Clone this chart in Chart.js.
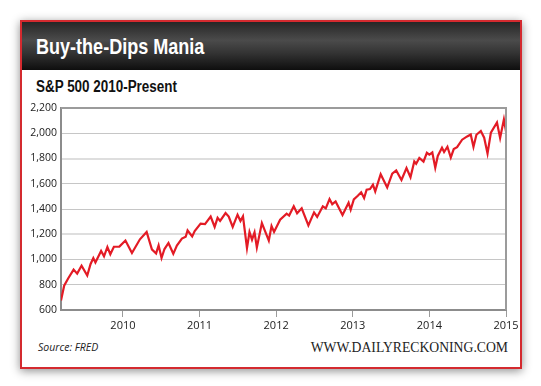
<!DOCTYPE html>
<html>
<head>
<meta charset="utf-8">
<title>Buy-the-Dips Mania</title>
<script src="https://cdn.jsdelivr.net/npm/chart.js@4/dist/chart.umd.min.js"></script>
<style>
  body { margin: 0; background: #fff; width: 541px; height: 386px; position: relative; overflow: hidden; }
  .frame {
    position: absolute; left: 20px; top: 20px; width: 498px; height: 345px;
    border: 2px solid #d42a2f; background: #fff;
    box-shadow: 0 2px 9px rgba(0,0,0,0.45);
  }
  .header {
    height: 48px;
    background: linear-gradient(#262626 0%, #4b4b4b 38%, #333 65%, #0e0e0e 100%);
  }
  .title, .subtitle {
    position: absolute; left: 14px; white-space: nowrap;
    font-family: "Liberation Sans", Arial, sans-serif; font-weight: bold;
    transform-origin: 0 0; transform: scaleX(0.82);
  }
  .title { top: 12px; color: #fff; font-size: 22px; }
  .subtitle { top: 56px; color: #111; font-size: 16px; transform: scaleX(0.84); }
  .source {
    position: absolute; left: 16px; top: 318px; color: #222;
    font: italic 10.5px "Open Sans", sans-serif;
  }
  .site {
    position: absolute; right: 12px; top: 318px; color: #222;
    font: 13.7px "Liberation Serif", serif;
  }
  .chart-box { position: absolute; left: 0; top: 0; width: 541px; height: 386px; }
</style>
</head>
<body>
<div class="frame">
  <div class="header"></div>
  <div class="title">Buy-the-Dips Mania</div>
  <div class="subtitle">S&amp;P 500 2010-Present</div>
  <div class="source">Source: FRED</div>
  <div class="site">WWW.DAILYRECKONING.COM</div>
</div>
<div class="chart-box"><canvas id="chart"></canvas></div>
<script>
const dates = [
  "2009-03-12", "2009-03-27", "2009-04-15", "2009-05-11", "2009-05-28", "2009-06-18",
  "2009-07-15", "2009-07-31", "2009-08-13", "2009-08-23", "2009-09-19", "2009-10-03",
  "2009-10-19", "2009-11-02", "2009-11-19", "2009-12-15", "2010-01-13", "2010-02-13",
  "2010-03-23", "2010-04-24", "2010-05-19", "2010-06-08", "2010-06-20", "2010-07-04",
  "2010-07-18", "2010-08-06", "2010-08-29", "2010-09-15", "2010-10-09", "2010-10-27",
  "2010-11-05", "2010-11-27", "2010-12-09", "2011-01-06", "2011-01-27", "2011-02-23",
  "2011-03-14", "2011-03-28", "2011-04-09", "2011-05-05", "2011-05-20", "2011-06-08",
  "2011-07-01", "2011-07-15", "2011-07-27", "2011-08-15", "2011-08-27", "2011-09-08",
  "2011-09-20", "2011-10-01", "2011-10-25", "2011-11-27", "2011-12-10", "2011-12-22",
  "2012-01-20", "2012-02-20", "2012-03-03", "2012-03-25", "2012-04-10", "2012-05-02",
  "2012-06-03", "2012-06-30", "2012-07-15", "2012-08-11", "2012-08-25", "2012-09-12",
  "2012-09-25", "2012-10-11", "2012-11-13", "2012-12-12", "2012-12-22", "2013-01-06",
  "2013-01-25", "2013-02-10", "2013-02-24", "2013-03-08", "2013-03-24", "2013-04-07",
  "2013-04-18", "2013-05-14", "2013-06-14", "2013-07-08", "2013-07-27", "2013-08-21",
  "2013-09-14", "2013-10-03", "2013-10-21", "2013-10-30", "2013-11-14", "2013-12-04",
  "2013-12-20", "2014-01-01", "2014-01-15", "2014-01-29", "2014-02-10", "2014-03-02",
  "2014-03-12", "2014-03-28", "2014-04-13", "2014-04-27", "2014-05-13", "2014-06-06",
  "2014-06-30", "2014-07-17", "2014-07-30", "2014-08-13", "2014-09-03", "2014-09-19",
  "2014-10-05", "2014-10-21", "2014-11-19", "2014-12-04", "2014-12-22", "2015-01-01",
];
const closes = [
  676, 792, 850, 920, 888, 951,
  873, 965, 1012, 977, 1068, 1025,
  1099, 1042, 1101, 1102, 1150, 1051,
  1160, 1218, 1080, 1048, 1112, 1012,
  1083, 1131, 1045, 1110, 1166, 1180,
  1230, 1183, 1225, 1284, 1280, 1340,
  1258, 1330, 1305, 1368, 1340, 1258,
  1355, 1305, 1342, 1090, 1218, 1157,
  1215, 1095, 1289, 1150, 1265, 1218,
  1315, 1363, 1348, 1421, 1366, 1405,
  1270, 1373, 1337, 1421, 1405, 1479,
  1438, 1460, 1352, 1450, 1394, 1476,
  1505, 1532, 1487, 1553, 1558, 1592,
  1539, 1675, 1570, 1680, 1706, 1630,
  1725, 1652, 1777, 1758, 1804, 1775,
  1845, 1830, 1848, 1727, 1820, 1885,
  1851, 1893, 1808, 1875, 1890, 1949,
  1975, 1990, 1892, 1988, 2018, 1965,
  1840, 2005, 2085, 1962, 2110, 2015,
];
const yTicks = [600, 800, 1000, 1200, 1400, 1600, 1800, 2000, 2200];
const yTickLabels = ["600", "800", "1,000", "1,200", "1,400", "1,600", "1,800", "2,000", "2,200"];
const xTicks = [2010, 2011, 2012, 2013, 2014, 2015];
const xTickLabels = ["2010", "2011", "2012", "2013", "2014", "2015"];

// date string -> fractional year, so the x axis can be a plain linear scale
function toYear(s) {
  const [y, m, d] = s.split("-").map(Number);
  const start = Date.UTC(y, 0, 1);
  const end = Date.UTC(y + 1, 0, 1);
  return y + (Date.UTC(y, m - 1, d) - start) / (end - start);
}

const points = dates.map((d, i) => ({ x: toYear(d), y: closes[i] }));

const plotBorder = {
  id: "plotBorder",
  afterDatasetsDraw(chart) {
    const { ctx, chartArea: a } = chart;
    ctx.save();
    ctx.strokeStyle = "#9b9b9b";
    ctx.lineWidth = 2;
    ctx.beginPath();
    ctx.moveTo(a.left, a.top);
    ctx.lineTo(a.right, a.top);
    ctx.lineTo(a.right, a.bottom);
    ctx.stroke();
    ctx.restore();
  },
};

const chart = document.querySelector("#chart").getContext("2d");
new Chart(chart, {
  type: "line",
  data: {
    datasets: [
      {
        label: "S&P 500",
        data: points,
        borderColor: "#e31b25",
        borderWidth: 2.2,
        pointRadius: 0,
        tension: 0,
      },
    ],
  },
  options: {
    responsive: true,
    maintainAspectRatio: false,
    animation: false,
    layout: { padding: { left: 0, top: 108, right: 35, bottom: 36 } },
    plugins: { legend: { display: false }, tooltip: { enabled: false } },
    scales: {
      x: {
        type: "linear",
        min: toYear(dates[0]),
        max: toYear(dates[dates.length - 1]),
        afterBuildTicks: (scale) => {
          scale.ticks = xTicks.map((v) => ({ value: v }));
        },
        afterFit: (scale) => {
          scale.height = 40;
        },
        ticks: {
          autoSkip: false,
          maxRotation: 0,
          padding: 2,
          color: "#222",
          font: { family: "Open Sans", size: 11 },
          callback: (v, i) => xTickLabels[i],
        },
        grid: {
          drawOnChartArea: false,
          drawTicks: true,
          tickLength: 7,
          tickColor: "#9b9b9b",
          tickWidth: 1,
        },
        border: { display: true, color: "#8c8c8c", width: 2 },
      },
      y: {
        min: 600,
        max: 2200,
        afterBuildTicks: (scale) => {
          scale.ticks = yTicks.map((v) => ({ value: v }));
        },
        afterFit: (scale) => {
          scale.width = 61;
        },
        ticks: {
          padding: 4,
          color: "#222",
          font: { family: "Open Sans", size: 10.5 },
          callback: (v, i) => yTickLabels[i],
        },
        grid: {
          drawTicks: false,
          color: (c) => {
            const v = c.tick && c.tick.value;
            if (v === 600 || v === 2200) return "rgba(0,0,0,0)";
            return v === 1200 || v === 1800 ? "#dedede" : "#c6c6c6";
          },
          lineWidth: (c) => {
            const v = c.tick && c.tick.value;
            return v === 1200 || v === 1800 ? 2 : 1;
          },
        },
        border: { display: true, color: "#8c8c8c", width: 2 },
      },
    },
  },
  plugins: [plotBorder],
});
</script>
</body>
</html>
